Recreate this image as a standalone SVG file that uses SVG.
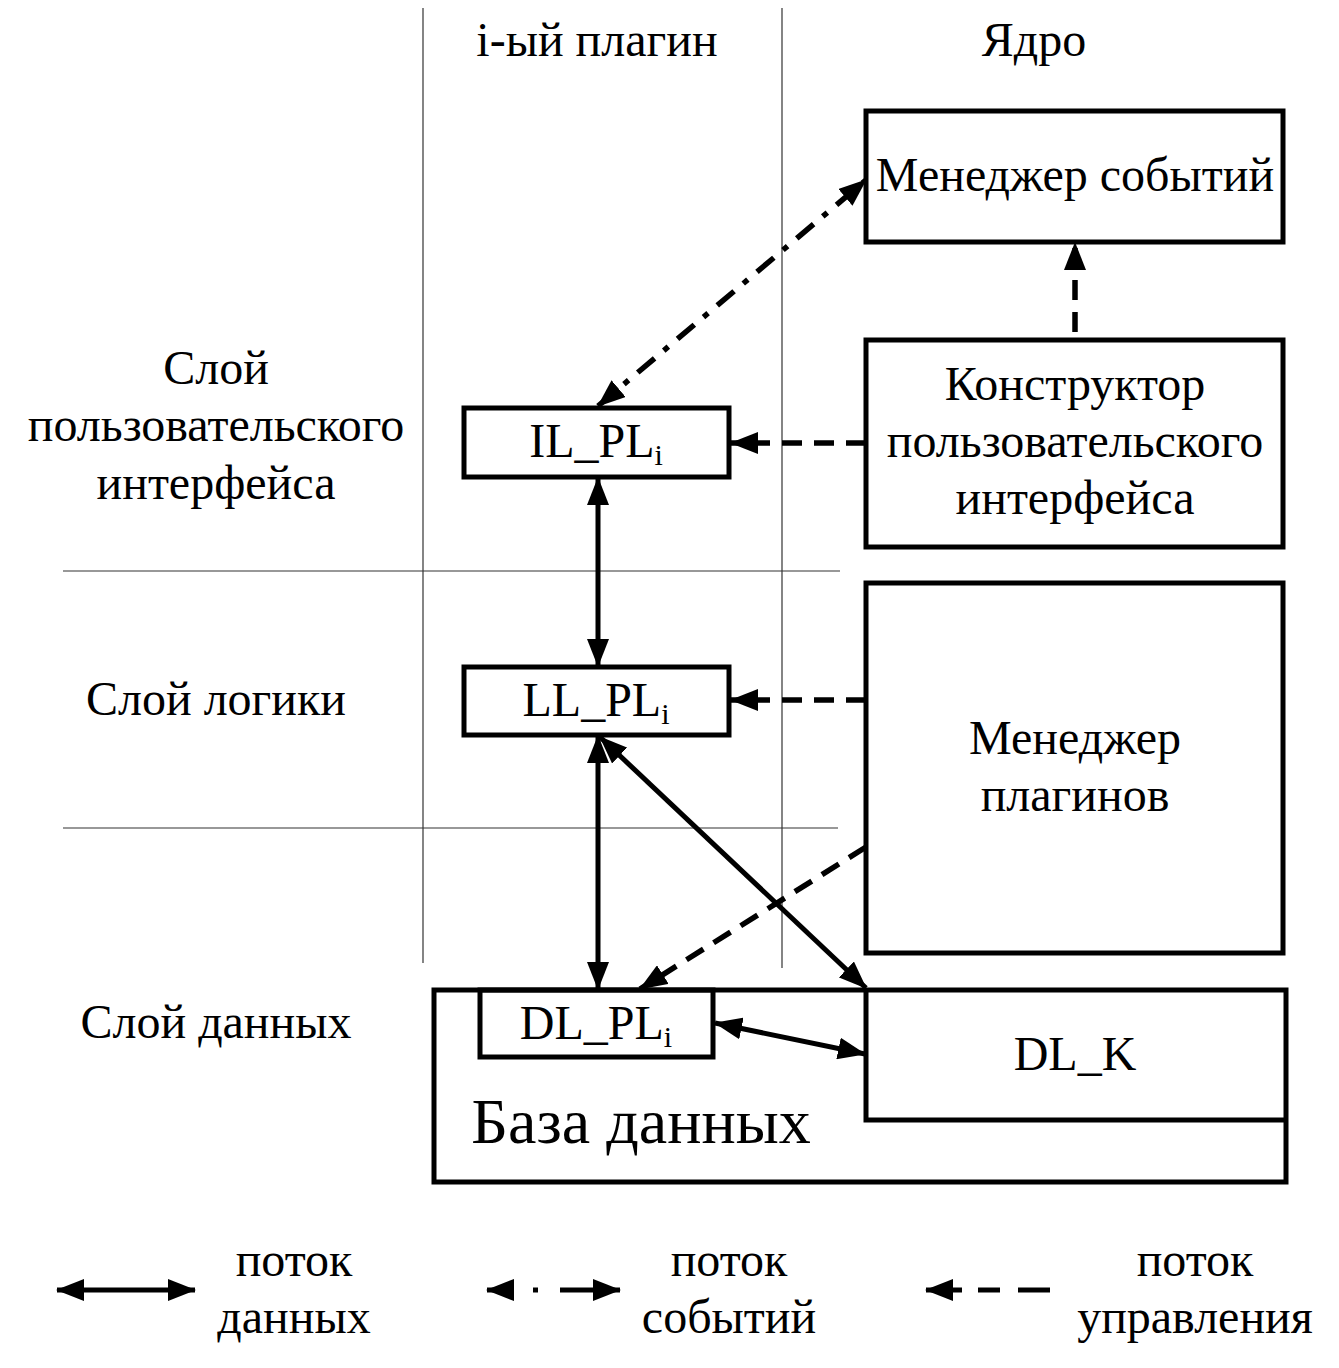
<svg xmlns="http://www.w3.org/2000/svg" width="1339" height="1368" viewBox="0 0 1339 1368">
<style>
text{font-family:"Liberation Serif","Times New Roman",serif;font-size:48px;fill:#000;text-anchor:middle}
.box{fill:none;stroke:#000;stroke-width:5}
.grid{stroke:#333;stroke-width:1.2;fill:none}
.data{stroke:#000;stroke-width:5;fill:none}
.ctrl{stroke:#000;stroke-width:5.5;fill:none;stroke-dasharray:20 12}
.evt{stroke:#000;stroke-width:5.5;fill:none;stroke-dasharray:22 12 6 12}
.sub{font-size:30px}
</style>
<defs>
<marker id="arr" viewBox="0 0 28 22" refX="27" refY="11" markerWidth="28" markerHeight="22" markerUnits="userSpaceOnUse" orient="auto-start-reverse">
<path d="M0,0 L28,11 L0,22 Z" fill="#000"/>
</marker>
</defs>
<rect width="1339" height="1368" fill="#fff"/>
<g id="grid">
<line class="grid" x1="423" y1="8" x2="423" y2="963"/>
<line class="grid" x1="782" y1="8" x2="782" y2="968"/>
<line class="grid" x1="63" y1="571" x2="840" y2="571"/>
<line class="grid" x1="63" y1="828" x2="838" y2="828"/>
</g>
<g id="headers">
<text x="597" y="56">i-ый плагин</text>
<text x="1034" y="56">Ядро</text>
<text x="216" y="384">Слой</text>
<text x="216" y="441">пользовательского</text>
<text x="216" y="499">интерфейса</text>
<text x="216" y="715">Слой логики</text>
<text x="216" y="1038">Слой данных</text>
</g>
<g id="node-db">
<rect class="box" x="434" y="990" width="852" height="192"/>
<text x="641" y="1143" style="font-size:64px">База данных</text>
</g>
<g id="node-em">
<rect class="box" x="866" y="111" width="417" height="131"/>
<text x="1075" y="191">Менеджер событий</text>
</g>
<g id="node-ctor">
<rect class="box" x="866" y="340" width="417" height="207"/>
<text x="1075" y="400">Конструктор</text>
<text x="1075" y="457">пользовательского</text>
<text x="1075" y="514">интерфейса</text>
</g>
<g id="node-pm">
<rect class="box" x="866" y="583" width="417" height="370"/>
<text x="1075" y="754">Менеджер</text>
<text x="1075" y="811">плагинов</text>
</g>
<g id="node-il">
<rect class="box" x="464" y="408" width="265" height="69"/>
<text x="596" y="457">IL_PL<tspan class="sub" dy="8">i</tspan></text>
</g>
<g id="node-ll">
<rect class="box" x="464" y="667" width="265" height="68"/>
<text x="596" y="716">LL_PL<tspan class="sub" dy="8">i</tspan></text>
</g>
<g id="node-dl">
<rect class="box" x="480" y="990" width="233" height="67"/>
<text x="596" y="1039">DL_PL<tspan class="sub" dy="8">i</tspan></text>
</g>
<g id="node-dlk">
<path class="box" d="M866,990 V1120 H1286"/>
<text x="1075" y="1070">DL_K</text>
</g>
<g id="connectors">
<line class="evt" x1="598" y1="406" x2="866" y2="180" marker-start="url(#arr)" marker-end="url(#arr)"/>
<line class="ctrl" x1="1075" y1="332" x2="1075" y2="243" marker-end="url(#arr)"/>
<line class="ctrl" x1="866" y1="443" x2="731" y2="443" marker-end="url(#arr)"/>
<line class="ctrl" x1="866" y1="700" x2="731" y2="700" marker-end="url(#arr)"/>
<line class="ctrl" x1="866" y1="847" x2="640" y2="989" marker-end="url(#arr)"/>
<line class="data" x1="598" y1="478" x2="598" y2="666" marker-start="url(#arr)" marker-end="url(#arr)"/>
<line class="data" x1="598" y1="736" x2="598" y2="989" marker-start="url(#arr)" marker-end="url(#arr)"/>
<line class="data" x1="600" y1="737" x2="866" y2="988" marker-start="url(#arr)" marker-end="url(#arr)"/>
<line class="data" x1="715" y1="1023" x2="865" y2="1054" marker-start="url(#arr)" marker-end="url(#arr)"/>
</g>
<g id="legend">
<line class="data" x1="57" y1="1290" x2="195" y2="1290" marker-start="url(#arr)" marker-end="url(#arr)"/>
<text x="294" y="1276">поток</text>
<text x="294" y="1333">данных</text>
<line class="data" x1="487" y1="1290" x2="514" y2="1290" marker-start="url(#arr)"/>
<line class="data" x1="533" y1="1290" x2="538" y2="1290"/>
<line class="data" x1="560" y1="1290" x2="620" y2="1290" marker-end="url(#arr)"/>
<text x="729" y="1276">поток</text>
<text x="729" y="1333">событий</text>
<line class="data" x1="926" y1="1290" x2="962" y2="1290" marker-start="url(#arr)"/>
<line class="data" x1="978" y1="1290" x2="1000" y2="1290"/>
<line class="data" x1="1018" y1="1290" x2="1050" y2="1290"/>
<text x="1195" y="1276">поток</text>
<text x="1195" y="1333">управления</text>
</g>
</svg>
